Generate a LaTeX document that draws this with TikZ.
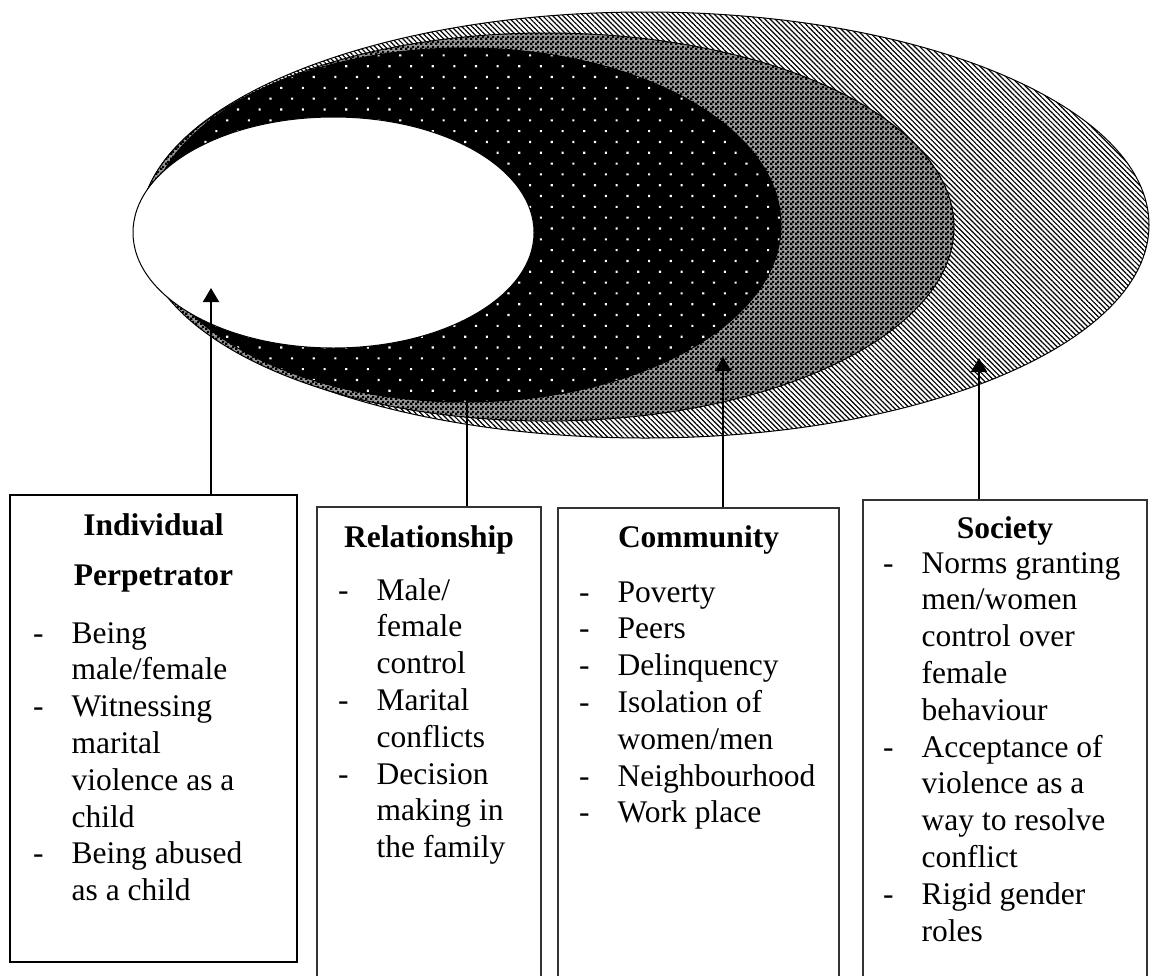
\documentclass[tikz,border=0pt]{standalone}
\usepackage{fontspec}
\setmainfont{Liberation Serif}
\usepackage{tikz}
\usetikzlibrary{arrows.meta,patterns,patterns.meta,fit}

\tikzdeclarepattern{
  name=checker,
  type=uncolored,
  bounding box={(0pt,0pt) and (5pt,5pt)},
  tile size={(5pt,5pt)},
  code={
    \fill (0pt,0pt) rectangle (2.9pt,2.9pt);
    \fill (2.5pt,2.5pt) rectangle (5pt,5pt);
  }
}

\newcommand{\boxfont}{\fontsize{31.5}{36.8}\selectfont}

\begin{document}
\begin{tikzpicture}[x=1pt, y=-1pt,
    layer/.style={draw=black, line width=1pt},
    riskbox/.style={draw=black!80, line width=1.3pt, inner sep=0pt},
    boxhead/.style={font=\boxfont\bfseries, anchor=base, inner sep=0pt},
    boxlist/.style={font=\boxfont, anchor=base west, inner sep=0pt},
    riskarrow/.style={line width=2pt, -{Triangle[length=14pt,width=16pt]}}]

    \path[use as bounding box, clip] (0,0) rectangle (1151,975);

    % Levels, outer to inner
    \path[layer, preaction={fill=white},
          pattern={Lines[angle=-45, distance=3.6pt, line width=1.2pt]}]
        (645,225) ellipse [x radius=504pt, y radius=213pt];
    \path[layer, preaction={fill=black!40}, pattern=checker]
        (547,227) ellipse [x radius=407pt, y radius=194pt];
    \path[layer, preaction={fill=black},
          pattern={Dots[radius=1.5pt, distance=15.3pt, angle=45]}, pattern color=white]
        (465,225) ellipse [x radius=316pt, y radius=177pt];
    \path[layer, fill=white]
        (333.5,232.5) ellipse [x radius=200.5pt, y radius=115.5pt];

    % Boxes
    \node[riskbox, draw=black, line width=2.2pt, fit={(10,495) (297,962)}] (indbox) {};
    \node[riskbox, fit={(317,507) (541,990)}] (relbox) {};
    \node[riskbox, fit={(558,508) (839,990)}] (combox) {};
    \node[riskbox, fit={(863,500) (1147,990)}] (socbox) {};

    % Arrow tips
    \coordinate (indtip) at (211,288);
    \coordinate (reltip) at (467,380);
    \coordinate (comtip) at (723,357);
    \coordinate (soctip) at (979,358);

    \draw[riskarrow] (indbox.north -| indtip) -- (indtip);
    \draw[riskarrow] (relbox.north -| reltip) -- (reltip);
    \draw[riskarrow] (combox.north -| comtip) -- (comtip);
    \draw[riskarrow] (socbox.north -| soctip) -- (soctip);

    % Headings
    \node[boxhead] (indhead) at (153.5,535)
        {\begin{tabular}[t]{@{}c@{}}Individual\\[13.2pt]Perpetrator\end{tabular}};
    \node[boxhead] (relhead) at (429,547) {Relationship};
    \node[boxhead] (comhead) at (698.5,547) {Community};
    \node[boxhead] (sochead) at (1005,538) {Society};

    % Lists
    \node[boxlist] (indlist) at (33,643) {\begin{tabular}[t]{@{}p{38.5pt}@{}l@{}}
        - & Being\\ & male/female\\ - & Witnessing\\ & marital\\
          & violence as a\\ & child\\ - & Being abused\\ & as a child
    \end{tabular}};
    \node[boxlist] (rellist) at (338,600) {\begin{tabular}[t]{@{}p{38.5pt}@{}l@{}}
        - & Male/\\ & female\\ & control\\ - & Marital\\ & conflicts\\
        - & Decision\\ & making in\\ & the family
    \end{tabular}};
    \node[boxlist] (comlist) at (579,602) {\begin{tabular}[t]{@{}p{38.5pt}@{}l@{}}
        - & Poverty\\ - & Peers\\ - & Delinquency\\ - & Isolation of\\
          & women/men\\ - & Neighbourhood\\ - & Work place
    \end{tabular}};
    \node[boxlist] (soclist) at (883,573) {\begin{tabular}[t]{@{}p{38.5pt}@{}l@{}}
        - & Norms granting\\ & men/women\\ & control over\\ & female\\
          & behaviour\\ - & Acceptance of\\ & violence as a\\ & way to resolve\\
          & conflict\\ - & Rigid gender\\ & roles
    \end{tabular}};
\end{tikzpicture}
\end{document}
